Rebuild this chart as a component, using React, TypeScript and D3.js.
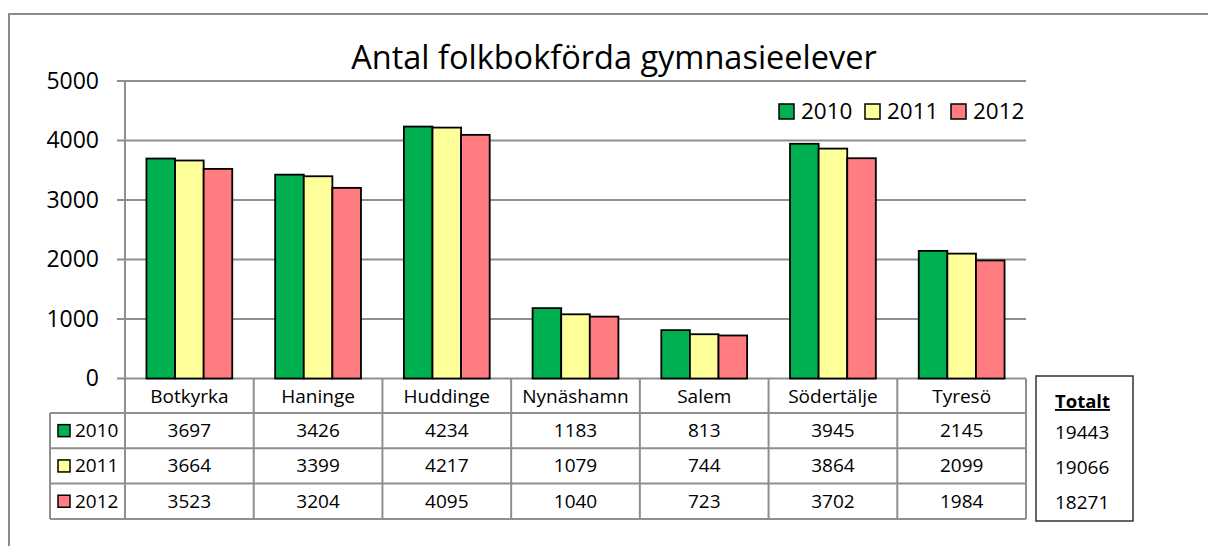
import * as d3 from "d3";

const categories = ["Botkyrka", "Haninge", "Huddinge", "Nynäshamn", "Salem", "Södertälje", "Tyresö"];
const seriesNames = ["2010", "2011", "2012"];
const values2010 = [3697, 3426, 4234, 1183, 813, 3945, 2145];
const values2011 = [3664, 3399, 4217, 1079, 744, 3864, 2099];
const values2012 = [3523, 3204, 4095, 1040, 723, 3702, 1984];
const totals = [19443, 19066, 18271];
const yTicks = [0, 1000, 2000, 3000, 4000, 5000];
const title = "Antal folkbokförda gymnasieelever";

const colors = ["#00B050", "#FFFF99", "#FF7C80"];
const font = "'Open Sans', sans-serif";
const gridColor = "#8f8f8f";

export default function App() {
  const W = 1208, H = 546;
  const plotL = 125, plotR = 1026, plotT = 81, plotB = 378.5;
  const series = [values2010, values2011, values2012];

  const x = d3.scaleBand<string>().domain(categories).range([plotL, plotR]).padding(0);
  const xs = d3.scaleBand<string>().domain(seriesNames).range([0, x.bandwidth()])
    .paddingInner(0).paddingOuter(0.75);
  const y = d3.scaleLinear().domain([0, 5000]).range([plotB, plotT]);

  const rowH = 35.3;
  const headB = 413;
  const tableL = 50;
  const rowTop = (i: number) => headB + i * rowH;
  const tableB = rowTop(3);

  return (
    <svg width={W} height={H} style={{ position: "absolute", left: 0, top: 0, background: "#fff" }}
      fontFamily={font}>
      {/* outer frame, only top/left edges fall inside the picture */}
      <rect x={9} y={14} width={1300} height={600} fill="none" stroke="#8a8a8a" strokeWidth={2} />

      <text x={614} y={69} textAnchor="middle" fontSize={32.5} fill="#000">{title}</text>

      {yTicks.map(t => (
        <g key={t}>
          <line x1={117} x2={plotR} y1={y(t)} y2={y(t)} stroke={gridColor} strokeWidth={2} />
          <text x={99} y={y(t) + 7.5} textAnchor="end" fontSize={23}>{t}</text>
        </g>
      ))}
      <line x1={plotL} x2={plotL} y1={plotT} y2={plotB} stroke={gridColor} strokeWidth={2} />

      {categories.map((c, ci) => (
        <g key={c} transform={`translate(${x(c)},0)`}>
          {seriesNames.map((s, si) => (
            <rect key={s} x={xs(s)} y={y(series[si][ci])} width={xs.bandwidth()}
              height={y(0) - y(series[si][ci])} fill={colors[si]} stroke="#000" strokeWidth={1.8} />
          ))}
        </g>
      ))}

      {seriesNames.map((s, si) => {
        const lx = 779 + si * 86;
        return (
          <g key={s}>
            <rect x={lx} y={104} width={15} height={15} fill={colors[si]} stroke="#000" strokeWidth={1.5} />
            <text x={lx + 22} y={119} fontSize={22.5}>{s}</text>
          </g>
        );
      })}

      {/* data table */}
      <g stroke={gridColor} strokeWidth={2} fill="none">
        {[headB, rowTop(1), rowTop(2), tableB].map((yy, i) => (
          <line key={i} x1={tableL} x2={plotR} y1={yy} y2={yy} />
        ))}
        <line x1={tableL} x2={tableL} y1={headB} y2={tableB} />
        {categories.map(c => (
          <line key={c} x1={x(c)} x2={x(c)} y1={plotB} y2={tableB} />
        ))}
        <line x1={plotR} x2={plotR} y1={plotB} y2={tableB} />
      </g>
      {categories.map(c => (
        <text key={c} x={(x(c) as number) + x.bandwidth() / 2} y={403} textAnchor="middle" fontSize={19}>{c}</text>
      ))}
      {seriesNames.map((s, si) => {
        const cy = rowTop(si) + rowH / 2;
        return (
          <g key={s}>
            <rect x={58} y={cy - 6} width={12} height={12} fill={colors[si]} stroke="#000" strokeWidth={1.5} />
            <text x={75} y={cy + 6.5} fontSize={19}>{s}</text>
            {categories.map((c, ci) => (
              <text key={c} x={(x(c) as number) + x.bandwidth() / 2} y={cy + 6.5} textAnchor="middle" fontSize={19}>
                {series[si][ci]}
              </text>
            ))}
          </g>
        );
      })}

      <rect x={1036} y={376} width={97} height={145} fill="none" stroke="#333" strokeWidth={1.5} />
      <text x={1055} y={408} fontSize={18.5} fontWeight="bold" textDecoration="underline">Totalt</text>
      {totals.map((t, i) => (
        <text key={i} x={1055} y={rowTop(i) + rowH / 2 + 8} fontSize={19}>{t}</text>
      ))}
    </svg>
  );
}
